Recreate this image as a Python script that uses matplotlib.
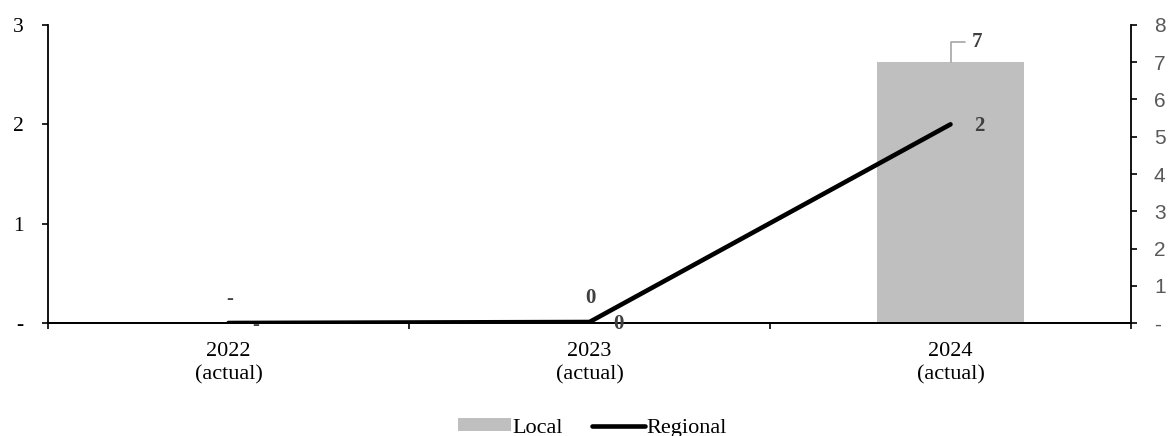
import matplotlib
matplotlib.use("Agg")
import matplotlib.pyplot as plt
from matplotlib.patches import Patch
from matplotlib.lines import Line2D

# Data
categories = ["2022\n(actual)", "2023\n(actual)", "2024\n(actual)"]
local_values = [0.0, 0.04, 7.0]      # right axis (bars)
regional_values = [0.0, 0.01, 2.0]   # left axis (line)
left_ticks = [0, 1, 2, 3]
right_ticks = [0, 1, 2, 3, 4, 5, 6, 7, 8]

SERIF = "Liberation Serif"
SANS = "Liberation Sans"
LABEL_COLOR = "#404040"
BAR_COLOR = "#bfbfbf"


def fmt(v):
    r = round(v)
    if v == 0:
        return "-"
    return f"{r:,d}"


fig = plt.figure(figsize=(11.74, 4.36), dpi=100)
ax = fig.add_axes([48 / 1174, 1 - 323 / 436, (1131 - 48) / 1174, (323 - 25) / 436])
ax2 = ax.twinx()

x = list(range(len(categories)))

# Bars on the secondary (right) axis
ax2.bar(x, local_values, width=0.405, color=BAR_COLOR, zorder=1)
ax2.set_ylim(0, 8)
ax2.set_yticks(right_ticks)
ax2.set_yticklabels([fmt(t) for t in right_ticks], fontfamily=SANS,
                    fontsize=15, color="#595959")
ax2.tick_params(axis="y", direction="out", length=4.5, width=1.2, pad=12)

# Line on the primary (left) axis, drawn above the bars
ax.set_zorder(ax2.get_zorder() + 1)
ax.patch.set_visible(False)
ax.plot(x, regional_values, color="black", lw=3.3, solid_capstyle="round",
        solid_joinstyle="round", zorder=3)
ax.set_ylim(0, 3)
ax.set_yticks(left_ticks)
ax.set_yticklabels([fmt(t) for t in left_ticks], fontfamily=SERIF,
                   fontsize=15.5, color="black")
ax.tick_params(axis="y", direction="out", length=4.5, width=1.2, pad=13)

ax.set_xlim(-0.5, 2.5)
ax.set_xticks(x)
ax.set_xticklabels(categories, fontfamily=SERIF, fontsize=16,
                   linespacing=1.25)
ax.tick_params(axis="x", which="major", length=0, pad=14)
ax.set_xticks([-0.5, 0.5, 1.5, 2.5], minor=True)
ax.tick_params(axis="x", which="minor", direction="out", length=4.5, width=1.2)
ax2.tick_params(axis="x", which="both", length=0)

for a in (ax, ax2):
    a.spines["top"].set_visible(False)
    for s in ("left", "right", "bottom"):
        a.spines[s].set_linewidth(1.3)
        a.spines[s].set_color("black")
ax.spines["right"].set_visible(False)
ax2.spines["left"].set_visible(False)

# Bar value labels
for xi, v in zip(x, local_values):
    if xi == 2:
        ax2.annotate(fmt(v), xy=(xi, v), xytext=(19, 14.5), textcoords="offset points",
                     ha="center", va="center", fontfamily=SERIF, fontsize=15,
                     fontweight="bold", color=LABEL_COLOR,
                     arrowprops=dict(arrowstyle="-", color="#a6a6a6", lw=1.2,
                                     connectionstyle="angle,angleA=0,angleB=90,rad=0",
                                     relpos=(0, 0.5), shrinkA=3, shrinkB=0))
    else:
        ax2.annotate(fmt(v), xy=(xi, v), xytext=(1, 17), textcoords="offset points",
                     ha="center", va="center", fontfamily=SERIF, fontsize=15,
                     fontweight="bold", color=LABEL_COLOR)

# Line value labels
for xi, v in zip(x, regional_values):
    ax.annotate(fmt(v), xy=(xi, v), xytext=(17, -1.5), textcoords="offset points",
                ha="left", va="center", fontfamily=SERIF, fontsize=15,
                fontweight="bold", color=LABEL_COLOR, annotation_clip=False,
                zorder=5)

handles = [Patch(facecolor=BAR_COLOR, edgecolor="none"),
           Line2D([0], [0], color="black", lw=3.3, solid_capstyle="round")]
fig.legend(handles, ["Local", "Regional"], loc="center",
           bbox_to_anchor=(592 / 1174, 1 - 428 / 436), ncol=2, frameon=False,
           prop={"family": SERIF, "size": 16}, handlelength=2.4,
           handleheight=0.5, handletextpad=0.05, columnspacing=1.3)

fig.savefig("out.png", dpi=100)
